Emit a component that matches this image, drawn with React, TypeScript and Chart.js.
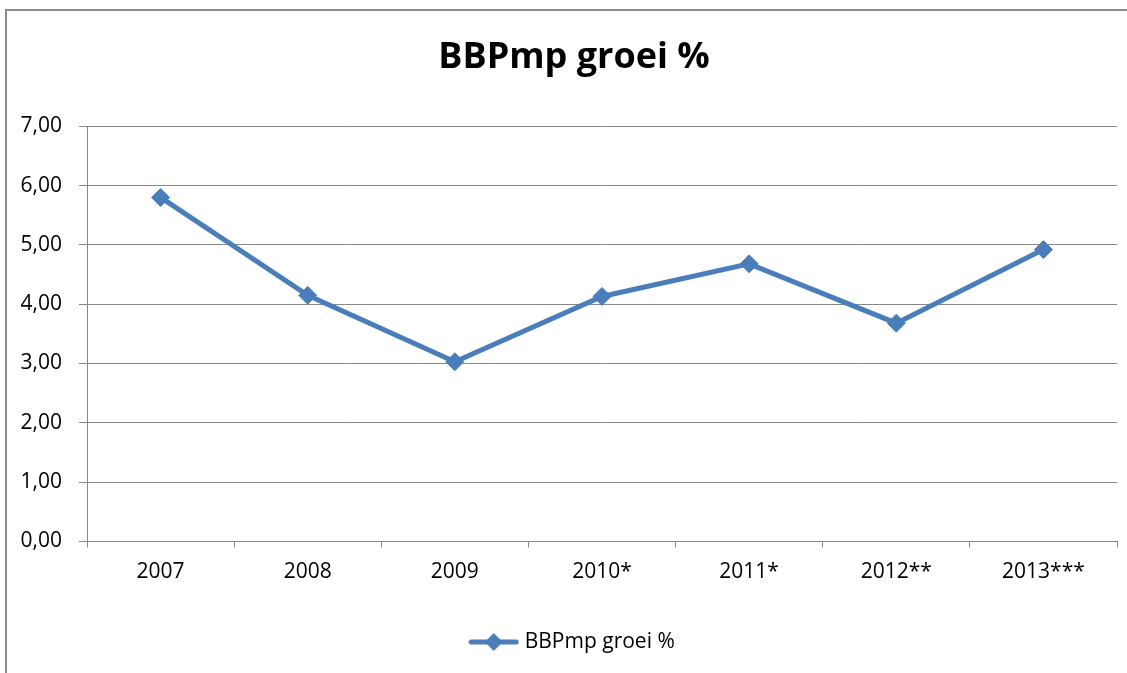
import React, { useEffect, useRef } from "react";
import { Chart, registerables } from "chart.js";

Chart.register(...registerables);

const categories = ["2007", "2008", "2009", "2010*", "2011*", "2012**", "2013***"];
const growthValues = [5.8, 4.15, 3.03, 4.13, 4.68, 3.68, 4.92];
const yTickLabels = ["0,00", "1,00", "2,00", "3,00", "4,00", "5,00", "6,00", "7,00"];
const seriesName = "BBPmp groei %";
const chartTitle = "BBPmp groei %";

const LINE_COLOR = "#4A7EBB";
const GRID_COLOR = "#878787";
const FONT = "'Open Sans', Lato, sans-serif";

function makeLegendIcon(): HTMLCanvasElement {
  const c = document.createElement("canvas");
  c.width = 51;
  c.height = 20;
  const ctx = c.getContext("2d")!;
  ctx.strokeStyle = LINE_COLOR;
  ctx.lineWidth = 5;
  ctx.lineCap = "round";
  ctx.beginPath();
  ctx.moveTo(3, 10);
  ctx.lineTo(48, 10);
  ctx.stroke();
  ctx.fillStyle = LINE_COLOR;
  ctx.beginPath();
  ctx.moveTo(25.5, 1);
  ctx.lineTo(34.5, 10);
  ctx.lineTo(25.5, 19);
  ctx.lineTo(16.5, 10);
  ctx.closePath();
  ctx.fill();
  return c;
}

export default function App() {
  const canvasRef = useRef<HTMLCanvasElement | null>(null);

  useEffect(() => {
    if (!canvasRef.current) return;
    const icon = makeLegendIcon();
    const chart = new Chart(canvasRef.current, {
      type: "line",
      data: {
        labels: categories,
        datasets: [
          {
            label: seriesName,
            data: growthValues,
            borderColor: LINE_COLOR,
            backgroundColor: LINE_COLOR,
            borderWidth: 5,
            pointStyle: "rectRot",
            pointRadius: 9,
            pointBackgroundColor: LINE_COLOR,
            pointBorderColor: LINE_COLOR,
            pointBorderWidth: 1,
            tension: 0,
            fill: false,
          },
        ],
      },
      options: {
        animation: false,
        responsive: false,
        maintainAspectRatio: false,
        devicePixelRatio: 1,
        layout: { padding: { left: 0, right: 0, top: 0, bottom: 28.5 } },
        plugins: {
          title: {
            display: true,
            text: chartTitle,
            color: "#000000",
            font: { family: FONT, size: 36, weight: "bold" },
            padding: { top: 25, bottom: 47 },
          },
          legend: {
            display: true,
            position: "bottom",
            labels: {
              usePointStyle: true,
              pointStyleWidth: 41,
              color: "#000000",
              font: { family: FONT, size: 21 },
              padding: 10,
              generateLabels: () => [
                {
                  text: seriesName,
                  pointStyle: icon as any,
                  fillStyle: LINE_COLOR,
                  strokeStyle: LINE_COLOR,
                  lineWidth: 0,
                  hidden: false,
                  datasetIndex: 0,
                } as any,
              ],
            },
          },
          tooltip: { enabled: false },
        },
        scales: {
          x: {
            type: "category",
            offset: true,
            afterFit: (scale: any) => {
              scale.height = 80;
            },
            grid: {
              display: true,
              offset: true,
              drawOnChartArea: false,
              drawTicks: true,
              tickLength: 6,
              color: GRID_COLOR,
              lineWidth: 1,
            },
            border: { display: true, color: GRID_COLOR, width: 1 },
            ticks: {
              color: "#000000",
              font: { family: FONT, size: 21 },
              padding: 12,
              maxRotation: 0,
              autoSkip: false,
            },
          },
          y: {
            min: 0,
            max: 7,
            afterFit: (scale: any) => {
              scale.width = 80;
            },
            grid: {
              display: true,
              drawOnChartArea: true,
              drawTicks: true,
              tickLength: 8,
              color: GRID_COLOR,
              lineWidth: 1,
            },
            border: { display: true, color: GRID_COLOR, width: 1 },
            ticks: {
              stepSize: 1,
              color: "#000000",
              font: { family: FONT, size: 21 },
              padding: 17,
              callback: (_v: any, i: number) => yTickLabels[i],
            },
          },
          spacer: {
            type: "linear",
            position: "right",
            display: true,
            min: 0,
            max: 7,
            afterFit: (scale: any) => {
              scale.width = 24;
            },
            grid: { display: false, drawOnChartArea: false, drawTicks: false },
            border: { display: false },
            ticks: { display: false },
          },
        },
      },
    });
    return () => chart.destroy();
  }, []);

  return (
    <div
      style={{
        position: "fixed",
        left: 0,
        top: 0,
        width: 1127,
        height: 673,
        overflow: "hidden",
        background: "#ffffff",
      }}
    >
      <div
        style={{
          position: "absolute",
          left: 5,
          top: 9,
          width: 1160,
          height: 720,
          border: "2px solid #8a8a8a",
          boxSizing: "border-box",
        }}
      />
      <canvas
        ref={canvasRef}
        width={1134}
        height={680}
        style={{ position: "absolute", left: 7, top: 11, width: 1134, height: 680 }}
      />
    </div>
  );
}
